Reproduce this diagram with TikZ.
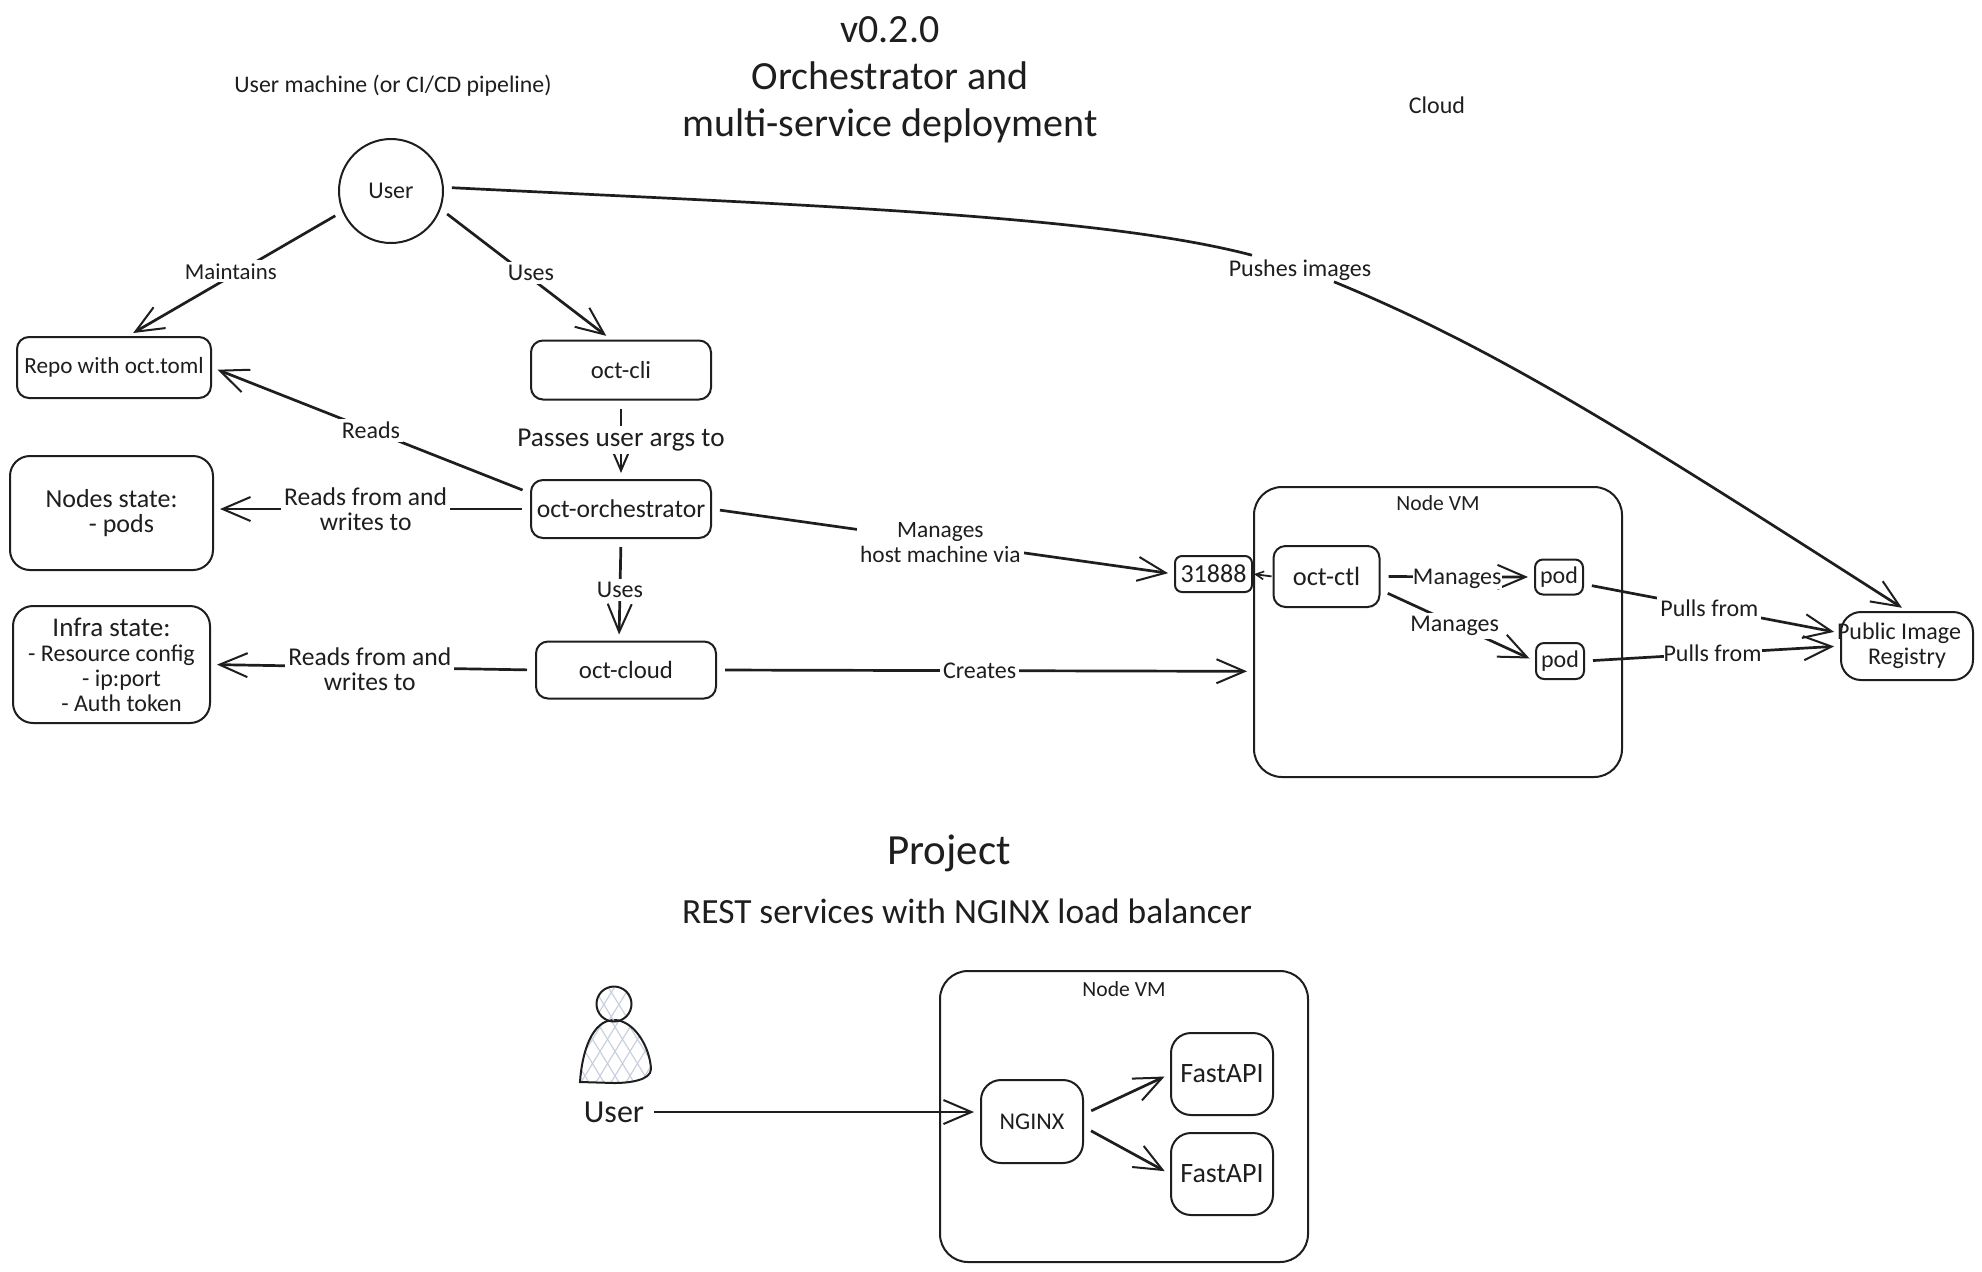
\documentclass[tikz,border=0pt]{standalone}
\usepackage{fontspec}
\setmainfont{Carlito}
\usetikzlibrary{arrows.meta,calc,shapes.geometric}
\definecolor{ink}{HTML}{1E1E1E}
\definecolor{hatch}{HTML}{C9D1DE}
\newcommand{\fs}[1]{\fontsize{#1}{12.5}\selectfont}
\tikzset{
  px/.style={x=0.5pt,y=-0.5pt},
  base/.style={text=ink,font=\fontsize{12}{12.5}\selectfont,align=center,inner sep=0pt},
  box/.style={base,draw=ink,line width=1pt,rounded corners=6pt,fill=white},
  bigbox/.style={box,rounded corners=14pt},
  softbox/.style={box,rounded corners=10pt},
  txt/.style={base},
  lab/.style={base,fill=white,inner sep=1.5pt},
  conn/.style={draw=ink,line width=1.35pt,shorten <=4pt,shorten >=3pt,
    -{Straight Barb[length=14pt,width=12pt,line width=1pt]}},
  plain/.style={draw=ink,line width=1.35pt,shorten <=4pt},
  tiny/.style={draw=ink,line width=0.9pt,shorten <=0.5pt,shorten >=0.5pt,
    -{Straight Barb[length=4pt,width=4pt,line width=0.8pt]}},
}
\begin{document}
\begin{tikzpicture}[px]
\useasboundingbox[fill=white] (0,0) rectangle (1982,1271);

% titles
\node[txt,font=\fontsize{20}{23.5}\selectfont] (title) at (890,80) {v0.2.0\\Orchestrator and\\multi-service deployment};
\node[txt,font=\fontsize{11.9}{14}\selectfont] (machine) at (393,86) {User machine (or CI/CD pipeline)};
\node[txt] (cloud) at (1437,105) {Cloud};
\node[txt,font=\fontsize{21.5}{24}\selectfont] (project) at (949,853) {Project};
\node[txt,font=\fontsize{17.7}{20}\selectfont] (rest) at (967,911) {REST services with NGINX load balancer};

% upper diagram nodes
\node[base,draw=ink,line width=1pt,circle,minimum size=52pt] (user) at (391,191) {User};
\node[box,minimum width=97pt,minimum height=30.5pt,font=\fs{11.6}] (repo) at (114,367.5) {Repo with oct.toml};
\node[box,minimum width=90pt,minimum height=29.5pt,font=\fs{12.3}] (cli) at (621,370) {oct-cli};
\node[box,minimum width=90pt,minimum height=29pt,font=\fs{12.8}] (orch) at (621,509) {oct-orchestrator};
\node[softbox,minimum width=101.5pt,minimum height=57pt,font=\fs{13}] (nstate) at (111.5,513) {Nodes state:\\\hspace*{10pt}- pods};
\node[softbox,minimum width=98.5pt,minimum height=58.5pt] (istate) at (111.5,664.5) {{\fs{13.5}Infra state:}\\- Resource config\\\hspace*{10pt}- ip:port\\\hspace*{10pt}- Auth token};
\node[box,minimum width=90pt,minimum height=28.5pt,font=\fs{12.4}] (ocloud) at (626,670) {oct-cloud};
\node[bigbox,minimum width=184pt,minimum height=145pt] (vm) at (1438,632) {};
\node[txt,font=\fs{10.8}] (vmlab) at (1438,503) {Node VM};
\node[box,rounded corners=3.5pt,minimum width=38.5pt,minimum height=18pt,font=\fs{13}] (port) at (1213.5,574) {31888};
\node[box,minimum width=53pt,minimum height=30.5pt,font=\fs{13.2}] (ctl) at (1326.5,576.5) {oct-ctl};
\node[box,rounded corners=4pt,minimum width=24pt,minimum height=17.5pt] (podA) at (1559,577) {pod};
\node[box,rounded corners=4pt,minimum width=24pt,minimum height=18pt] (podB) at (1560,661) {pod};
\node[softbox,minimum width=66pt,minimum height=34pt] (reg) at (1907,646) {\hspace*{-8pt}Public Image\\Registry};

% upper connectors
\draw[conn] (user.203) -- node[lab,pos=0.52,yshift=2.5pt,font=\fs{11.4}] {Maintains} ([xshift=7pt]repo.north);
\draw[conn] (user.-20) -- node[lab,pos=0.53,yshift=2.5pt] {Uses} ([xshift=-5pt]cli.north);
\draw[conn] (cli.south) -- node[lab,pos=0.5,font=\fs{13.6}] {Passes user args to} (orch.north);
\draw[conn] (orch.170) -- node[lab,pos=0.5] {Reads} (repo.east);
\draw[conn] (orch.west) -- node[lab,pos=0.52,font=\fontsize{12.8}{12.5}\selectfont] {Reads from and\\writes to} ([yshift=2pt]nstate.east);
\draw[conn] (orch.east) -- node[lab,pos=0.49,xshift=1pt,yshift=-1pt,font=\fs{11.7}] {Manages\\host machine via} (port.west);
\draw[conn] (orch.south) -- node[lab,pos=0.5] {Uses} ([xshift=-3.5pt]ocloud.north);
\draw[conn] (ocloud.west) -- node[lab,pos=0.51,yshift=-1pt,font=\fontsize{12.8}{12.5}\selectfont] {Reads from and\\writes to} (istate.east);
\draw[conn] (ocloud.east) -- node[lab,pos=0.49] {Creates} (vm.192);
\draw[tiny] (ctl.west) -- (port.east);
\draw[conn] (ctl.east) -- node[lab,pos=0.5,inner sep=0pt,yshift=-1pt] {Manages} (podA.west);
\draw[conn] (ctl.-14) -- node[lab,pos=0.48,yshift=-1pt] {Manages} (podB.west);
\draw[conn] (podA.-16) -- node[lab,pos=0.49] {Pulls from} (reg.169);
\draw[conn] (podB.east) -- node[lab,pos=0.5,inner sep=0pt] {Pulls from} (reg.west);

\node[txt] (pushlab) at (1300,270) {Pushes images};
\draw[plain] (user.4) .. controls (800,205) and (1100,215) .. ($(pushlab.north)+(-48,-4)$);
\draw[conn,shorten <=0pt] ($(pushlab.south)+(34,1)$) .. controls (1500,350) and (1640,440) .. (reg.north);

% project diagram
\begin{scope}
  \clip (580,1082) .. controls (582,1052) and (592,1020) .. (614,1020)
        .. controls (634,1020) and (650,1047) .. (651,1069)
        .. controls (651,1080) and (630,1083) .. (614,1083) -- cycle;
  \foreach \k in {-10,...,20}{
    \draw[hatch,line width=0.6pt] (500+\k*15,1092) -- ++(80,-130);
    \draw[hatch,line width=0.6pt] (500+\k*15,962) -- ++(80,130);
  }
\end{scope}
\draw[ink,line width=1pt] (580,1082) .. controls (582,1052) and (592,1020) .. (614,1020)
        .. controls (634,1020) and (650,1047) .. (651,1069)
        .. controls (651,1080) and (630,1083) .. (614,1083) -- cycle;
\begin{scope}
  \clip (614,1004) circle[radius=17.5];
  \foreach \k in {-4,...,8}{
    \draw[hatch,line width=0.6pt] (560+\k*15,1027) -- ++(40,-65);
    \draw[hatch,line width=0.6pt] (560+\k*15,982) -- ++(40,65);
  }
\end{scope}
\draw[ink,line width=1pt] (614,1004) circle[radius=17.5];
\node[txt,font=\fontsize{16}{18}\selectfont] (puser) at (614,1112) {User};

\node[bigbox,minimum width=184pt,minimum height=145.5pt] (vmb) at (1124,1116.5) {};
\node[txt,font=\fs{10.8}] (vmblab) at (1124,989) {Node VM};
\node[softbox,minimum width=51pt,minimum height=41.5pt] (nginx) at (1032,1121.5) {NGINX};
\node[softbox,minimum width=51pt,minimum height=41pt,font=\fs{14}] (fa) at (1222,1074) {FastAPI};
\node[softbox,minimum width=51pt,minimum height=41pt,font=\fs{14}] (fb) at (1222,1174) {FastAPI};

\draw[conn] ([xshift=1pt]puser.east) -- (nginx.west |- puser.east);
\draw[conn] (nginx.8) -- (fa.west);
\draw[conn] (nginx.-6) -- (fb.west);
\end{tikzpicture}
\end{document}
